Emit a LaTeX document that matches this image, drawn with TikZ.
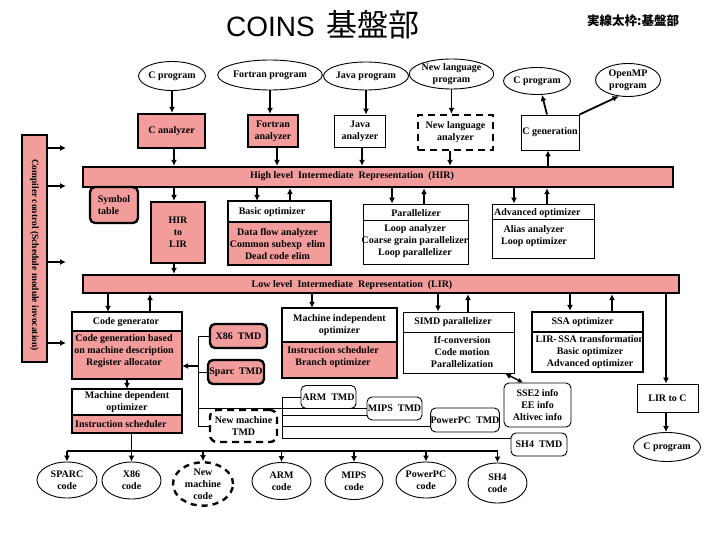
\documentclass[tikz,border=0pt]{standalone}
\usepackage{fontspec}
\setmainfont{Liberation Serif}
\newfontfamily\titlefont{Liberation Sans}
\newfontfamily\cjk{Noto Sans CJK JP}
\usetikzlibrary{arrows.meta,shapes.geometric}
\definecolor{pk}{RGB}{242,156,156}
\tikzset{
  lbl/.style={font=\fontsize{10}{12}\selectfont\bfseries, align=center, inner sep=0},
  thk/.style={line width=2.4pt},
  thn/.style={line width=0.9pt},
  sz/.style 2 args={minimum width=#1, minimum height=#2},
  pbox/.style={lbl, draw, thk, fill=pk},
  wbox/.style={lbl, draw, thn, fill=white},
  wtbox/.style={lbl, draw, thk, fill=white},
  prbox/.style={lbl, draw, thk, fill=pk, rounded corners=5pt},
  wrbox/.style={lbl, draw, thn, fill=white, rounded corners=5pt},
  ell/.style={lbl, ellipse, draw, thn, fill=white},
  arr/.style={line width=1.8pt, -{Latex[length=6pt,width=6pt]}},
  ln/.style={line width=0.9pt},
}
\begin{document}
\begin{tikzpicture}[x=1pt,y=-1pt]
\useasboundingbox (0,0) rectangle (720,540);

% titles
\node[anchor=base west, inner sep=0, font=\fontsize{28}{30}\selectfont] (title) at (226,37) {\titlefont COINS\hspace{12pt}{\cjk\fontsize{31}{33}\selectfont 基盤部}};
\node[anchor=base west, inner sep=0, font=\fontsize{12.5}{13}\selectfont\bfseries] (legend) at (587,26) {\cjk 実線太枠:基盤部};

% source programs
\node[ell, sz={66}{29}] (cprog) at (172,76) {C program};
\node[ell, sz={85}{30}] (fprog) at (270,75) {Fortran program};
\node[ell, sz={72}{28}] (jprog) at (366,76) {Java program};
\node[ell, sz={77}{30}] (nlprog) at (451.5,74) {New language\\program};
\node[ell, sz={63}{27}] (cprog2) at (537,81) {C program};
\node[ell, sz={65}{33}] (omp) at (628,80) {OpenMP\\program};

% analyzers
\node[pbox, sz={67}{34}] (can) at (171.5,131) {C analyzer};
\node[pbox, sz={50}{32}] (fan) at (273,131) {Fortran\\analyzer};
\node[wbox, sz={51}{32}] (jan) at (360,131) {Java\\analyzer};
\node[wtbox, dashed, dash pattern=on 7pt off 5pt, sz={75}{35}] (nlan) at (455.5,132.5) {New language\\analyzer};
\node[wbox, sz={58}{35}] (cgen) at (550,132.5) {C generation};

% compiler control
\node[lbl, draw, line width=1.8pt, fill=pk, sz={25}{227}] (cc) at (34.5,248.5) {};
\node[lbl, rotate=-90, font=\fontsize{9.5}{11}\selectfont\bfseries] (cctext) at (34.5,255) {Compiler control (Schedule module invocation)};

% HIR and LIR bars
\node[pbox, sz={590}{20}] (hir) at (378,177) {};
\node[lbl] (hirtext) at (352,176) {High level\ \ Intermediate\ \ Representation\ \ (HIR)};
\node[pbox, sz={596}{18}] (lir) at (381,284) {};
\node[lbl] (lirtext) at (352,285) {Low level\ \ Intermediate\ \ Representation\ \ (LIR)};

% symbol table, HIR to LIR
\node[prbox, sz={48}{36}, align=left] (sym) at (114,205) {Symbol\\table};
\node[pbox, sz={54}{61}] (h2l) at (178,232.5) {HIR\\to\\LIR};

% basic optimizer
\node[fill=pk, sz={103}{64}, inner sep=0] (basic) at (279.5,233) {};
\node[lbl, fill=white, anchor=north, sz={103}{21}] (basich) at (basic.north) {};
\node[lbl] (basicht) at (272,212) {Basic optimizer};
\node[lbl] (basicb) at (277.5,244) {Data flow analyzer\\Common subexp\ \ elim\\Dead code elim};
\draw[thk] (basic.north west) rectangle (basic.south east);
\draw[thk] (basich.south west) -- (basich.south east);

% parallelizer
\node[wbox, sz={105}{60}] (par) at (415.5,234) {};
\node[lbl] (parh) at (416,213) {Parallelizer};
\draw[line width=1.8pt] (par.north west) ++(0,17) -- ++(105,0);
\node[lbl] (parb) at (415,241) {Loop analyzer\\Coarse grain parallelizer\\Loop parallelizer};

% advanced optimizer
\node[wbox, sz={102}{54}] (adv) at (543,231) {};
\node[lbl, anchor=west] (advh) at (494,213) {Advanced optimizer};
\draw[thn] (adv.north west) ++(0,16) -- ++(102,0);
\node[lbl] (advb) at (534,236) {Alias analyzer\\Loop optimizer};

% code generator
\node[fill=pk, sz={110}{67}, inner sep=0] (cg) at (127,345.5) {};
\node[fill=white, anchor=north, sz={110}{19}, inner sep=0] (cgh) at (cg.north) {};
\node[lbl] (cght) at (126,322) {Code generator};
\node[lbl] (cgb) at (124,351) {Code generation based\\on machine description\\Register allocator};
\draw[thk] (cg.north west) rectangle (cg.south east);
\draw[thk] (cgh.south west) -- (cgh.south east);

% machine dependent optimizer
\node[fill=pk, sz={110}{44}, inner sep=0] (mdo) at (127,411) {};
\node[fill=white, anchor=north, sz={110}{26}, inner sep=0] (mdoh) at (mdo.north) {};
\node[lbl] (mdoht) at (127,402) {Machine dependent\\optimizer};
\node[lbl, anchor=west] (mdob) at (75,424) {Instruction scheduler};
\draw[thk] (mdo.north west) rectangle (mdo.south east);
\draw[thk] (mdoh.south west) -- (mdoh.south east);

% machine independent optimizer
\node[fill=pk, sz={115}{70}, inner sep=0] (mio) at (339.5,343) {};
\node[fill=white, anchor=north, sz={115}{34}, inner sep=0] (mioh) at (mio.north) {};
\node[lbl] (mioht) at (339.5,325) {Machine independent\\optimizer};
\node[lbl] (miob) at (333,357) {Instruction scheduler\\Branch optimizer};
\draw[thk] (mio.north west) rectangle (mio.south east);
\draw[thk] (mioh.south west) -- (mioh.south east);

% SIMD parallelizer
\node[wbox, sz={111}{61}] (simd) at (458.5,342.5) {};
\node[lbl] (simdh) at (453,322) {SIMD parallelizer};
\draw[thn] (simd.north west) ++(0,21) -- ++(111,0);
\node[lbl] (simdb) at (462,352) {If-conversion\\Code motion\\Parallelization};

% SSA optimizer
\node[wtbox, sz={111}{60}] (ssa) at (587.5,342) {};
\node[lbl] (ssah) at (582.5,322) {SSA optimizer};
\draw[thk] (ssa.north west) ++(0,21) -- ++(111,0);
\node[lbl] (ssab) at (590,352) {LIR-\,SSA transformation\\Basic optimizer\\Advanced optimizer};

% LIR to C
\node[wbox, sz={61}{28}] (l2c) at (667.5,398) {LIR to C};
\node[ell, sz={62}{29}] (cprog3) at (667,447) {C program};

% TMDs
\node[prbox, sz={57}{24}] (x86tmd) at (238.5,336) {X86\ \ TMD};
\node[prbox, sz={56}{24}] (sparctmd) at (236,372) {Sparc\ \ TMD};
\node[wrbox, sz={55}{23}] (armtmd) at (328.5,397) {ARM\ \ TMD};
\node[wrbox, sz={55}{23}] (mipstmd) at (394.5,408.5) {MIPS\ \ TMD};
\node[wrbox, sz={64}{24}] (ppctmd) at (465,420) {PowerPC\ \ TMD};
\node[wrbox, sz={56}{23}] (sh4tmd) at (539,444.5) {SH4\ \ TMD};
\node[lbl, draw, thk, dashed, dash pattern=on 7pt off 5pt, rounded corners=7pt, sz={67}{32}] (newtmd) at (243.5,426) {New machine\\TMD};
\node[wrbox, sz={67}{44}] (sse2) at (537.5,405) {SSE2 info\\EE info\\Altivec info};

% codes
\node[ell, sz={60}{36}] (sparcc) at (67,480) {SPARC\\code};
\node[ell, sz={59}{37}] (x86c) at (131.5,480.5) {X86\\code};
\node[ell, thk, dashed, dash pattern=on 6pt off 5pt, sz={60}{40}] (newc) at (203,484) {New\\machine\\code};
\node[ell, sz={59}{37}] (armc) at (281.5,481) {ARM\\code};
\node[ell, sz={58}{37}] (mipsc) at (354,481) {MIPS\\code};
\node[ell, sz={60}{36}] (ppcc) at (426,480) {PowerPC\\code};
\node[ell, sz={59}{40}] (sh4c) at (497.5,483) {SH4\\code};

% ---- connectors ----
% programs -> analyzers
\draw[arr] (cprog.south) -- (cprog.south |- can.north);
\draw[arr] (fprog.south) -- (fprog.south |- fan.north);
\draw[arr] (jprog.south) -- (jprog.south |- jan.north);
\draw[arr] (nlprog.south) -- (nlprog.south |- nlan.north);
\draw[arr] (547,0 |- cgen.north) -- (542,0 |- cprog2.south);
\draw[arr] (cgen.north east) -- (omp.240);
% analyzers -> HIR
\draw[arr] (174,0 |- can.south) -- (174,0 |- hir.north);
\draw[arr] (277,0 |- fan.south) -- (277,0 |- hir.north);
\draw[arr] (362,0 |- jan.south) -- (362,0 |- hir.north);
\draw[arr] (450,0 |- nlan.south) -- (450,0 |- hir.north);
\draw[arr] (548,0 |- hir.north) -- (548,0 |- cgen.south);
% compiler control arrows
\coordinate (cc1) at (66,148);
\coordinate (cc2) at (66,186);
\coordinate (cc3) at (66,262);
\coordinate (cc4) at (66,343);
\foreach \c in {cc1,cc2,cc3,cc4} \draw[arr] (\c -| cc.east) -- (\c);
% HIR <-> modules
\draw[arr] (174,0 |- hir.south) -- (174,0 |- h2l.north);
\draw[arr] (174,0 |- h2l.south) -- (174,0 |- lir.north);
\draw[arr] (257,0 |- hir.south) -- (257,0 |- basic.north);
\draw[arr] (290,0 |- basic.north) -- (290,0 |- hir.south);
\draw[arr] (392,0 |- hir.south) -- (392,0 |- par.north);
\draw[arr] (424,0 |- par.north) -- (424,0 |- hir.south);
\draw[arr] (514,0 |- hir.south) -- (514,0 |- adv.north);
\draw[arr] (547,0 |- adv.north) -- (547,0 |- hir.south);
% LIR <-> modules
\draw[arr] (108,0 |- lir.south) -- (108,0 |- cg.north);
\draw[arr] (150,0 |- cg.north) -- (150,0 |- lir.south);
\draw[arr] (312,0 |- lir.south) -- (312,0 |- mio.north);
\draw[arr] (438,0 |- lir.south) -- (438,0 |- simd.north);
\draw[arr] (468,0 |- simd.north) -- (468,0 |- lir.south);
\draw[arr] (570,0 |- lir.south) -- (570,0 |- ssa.north);
\draw[arr] (612,0 |- ssa.north) -- (612,0 |- lir.south);
\draw[arr] (666,0 |- lir.south) -- (666,0 |- l2c.north);
\draw[arr] (666,0 |- l2c.south) -- (666,0 |- cprog3.north);
\draw[arr] (127,0 |- cg.south) -- (127,0 |- mdo.north);
\draw[line width=1.5pt, {Latex[length=6pt,width=6pt]}-{Latex[length=5pt,width=5pt]}] (505,0 |- simd.south) -- (523,0 |- sse2.north);
% TMD brackets
\coordinate (bx) at (198,366);
\draw[ln] (x86tmd.west) -| (bx |- newtmd.west) -- (newtmd.west);
\draw[ln] (sparctmd.west) -- (bx |- sparctmd.west);
\draw[arr] (bx) -- (cg.east |- bx);
\coordinate (by) at (282,438);
\draw[ln] (armtmd.west) -| (by) -- (sh4tmd.west |- by);
\draw[ln] (bx |- 0,408) -- (mipstmd.west |- 0,408);
\draw[ln] (by |- 0,415) -- (mipstmd.west |- 0,415);
\draw[ln] (by |- 0,426) -- (ppctmd.west |- 0,426);
% code bus
\coordinate (busL) at (67,451);
\coordinate (busR) at (497.5,451);
\draw[line width=1.2pt] (busL) -- (busR);
\draw[line width=1.8pt] (x86c.north |- mdo.south) -- (x86c.north |- busL);
\foreach \n in {sparcc,x86c,newc,armc,mipsc,ppcc,sh4c} \draw[arr] (\n.north |- busL) -- (\n.north);
\end{tikzpicture}
\end{document}
